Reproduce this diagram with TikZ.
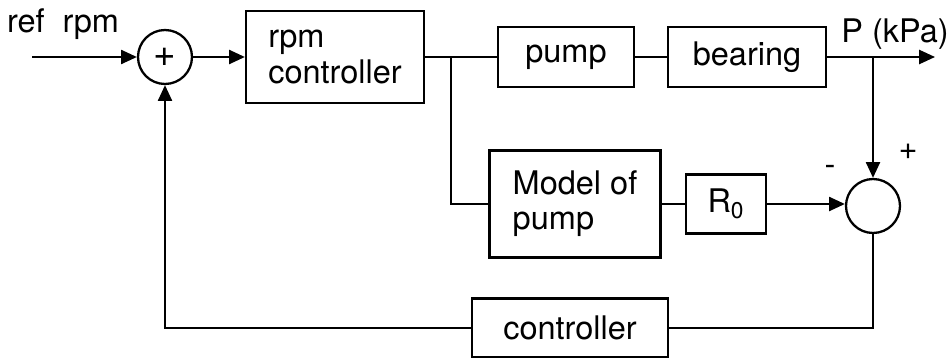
\documentclass[tikz,border=0pt]{standalone}
\usepackage{fontspec}
\setmainfont{TeX Gyre Heros}
\usetikzlibrary{arrows.meta}

\tikzset{
  block/.style={draw, line width=1.3pt, inner sep=0pt, align=left},
  junc/.style={draw, circle, line width=1.3pt, minimum size=1.08cm, inner sep=0pt},
}

\begin{document}
\begin{tikzpicture}[>={Triangle[length=9pt,width=8pt]}, x=0.02cm, y=-0.02cm,
    line width=1.2pt, font=\fontsize{18.5}{20}\selectfont]
  \useasboundingbox (0,0) rectangle (947,358);
  % forward path
  \coordinate (in) at (32,57);
  \node[junc, font=\fontsize{22}{22}\selectfont] (sum1) at (165,57) {+};
  \node[block, minimum width=3.56cm, minimum height=1.84cm] (rpmc) at (335,57) {rpm\\controller};
  \coordinate (br) at (451,57);
  \node[block, minimum width=2.72cm, minimum height=1.2cm] (pump) at (566,57) {pump};
  \node[block, minimum width=3.16cm, minimum height=1.2cm] (bear) at (747,57) {bearing};
  \coordinate (tap) at (873,57);
  \coordinate (out) at (935,57);
  % model branch
  \node[block, minimum width=3.42cm, minimum height=2.14cm] (model) at (575,204) {Model of\\pump};
  \node[block, minimum width=1.6cm, minimum height=1.18cm] (R0) at (726,204) {R\textsubscript{0}};
  \node[junc] (sum2) at (873,206) {};
  \node[block, minimum width=3.92cm, minimum height=1.18cm] (ctrl) at (570,328) {controller};
  % labels
  \node (lref) at (63,24) {ref\ \ rpm};
  \node (lout) at (895,34) {P (kPa)};
  \node (lminus) at (830,170) {-};
  \node (lplus) at (908,152) {+};
  % connectors
  \draw[->] (in) -- (sum1);
  \draw[->] (sum1) -- (rpmc);
  \draw (rpmc) -- (pump);
  \draw (pump) -- (bear);
  \draw[->] (bear) -- (out);
  \draw[->] (tap) -- (sum2);
  \draw (br) |- (model);
  \draw (model) -- (R0);
  \draw[->] (R0) -- (R0 -| sum2.west);
  \draw (sum2) |- (ctrl);
  \draw[->] (ctrl) -| (sum1);
\end{tikzpicture}
\end{document}
